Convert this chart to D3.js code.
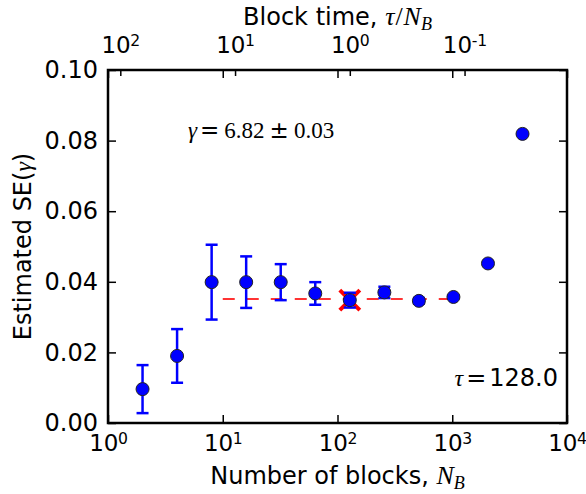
<!DOCTYPE html>
<html>
<head>
<meta charset="utf-8">
<script src="https://cdn.jsdelivr.net/npm/d3@7"></script>
<style>
  body { margin: 0; background: #fff; }
  svg { display: block; font-family: "DejaVu Sans", sans-serif; }
  .math { font-family: "Liberation Serif", serif; }
  .op { font-family: "DejaVu Sans", sans-serif; }
  .tick line { stroke: #000; stroke-width: 1.5px; }
  .tick text { fill: #000; font-family: "DejaVu Sans", sans-serif; }
</style>
</head>
<body>
<svg id="chart" width="586" height="494"></svg>
<script>
// --- data ---
const nBlocks = [2, 4, 8, 16, 32, 64, 128, 256, 512, 1024, 2048, 4096];
const seValues = [0.0096, 0.0190, 0.0399, 0.0399, 0.0399, 0.0367, 0.0348, 0.0370, 0.0346, 0.0357, 0.0452, 0.0819];
const seErrors = [0.0068, 0.0076, 0.0106, 0.0073, 0.0051, 0.0032, 0.0021, 0.0016, 0.0008, 0.0005, 0.0004, 0.0003];

const plateauValue = 0.0351;
const plateauRange = [10, 1000];
const chosenBlocks = 128;

const tau = 128.0;
const gammaText = "6.82";
const gammaErrText = "0.03";

const xTicks = [1, 10, 100, 1000, 10000];
const topTicks = [100, 10, 1, 0.1];
const yTicks = [0, 0.02, 0.04, 0.06, 0.08, 0.10];

// --- layout ---
const width = 586, height = 494;
const margin = { top: 70, right: 19, bottom: 71, left: 108 };
const fontSize = 24;
const powerFont = 23;

const svg = d3.select("#chart");

const x = d3.scaleLog().domain([1, 1e4]).range([margin.left, width - margin.right]);
const xTop = d3.scaleLog().domain([tau / 1, tau / 1e4]).range(x.range());
const y = d3.scaleLinear().domain([0, 0.10]).range([height - margin.bottom, margin.top]);

const plotLeft = margin.left, plotRight = width - margin.right;
const plotTop = margin.top, plotBottom = height - margin.bottom;

function powerLabel(sel) {
    sel.each(function (d) {
        const t = d3.select(this).text("");
        t.append("tspan").text("10");
        t.append("tspan").attr("dy", "-0.45em").attr("dx", -0.5).attr("font-size", "0.68em")
            .text(Math.round(Math.log10(d)));
    });
}

// --- axes (ticks point inward) ---
const gx = svg.append("g").attr("transform", `translate(0,${plotBottom})`)
    .call(d3.axisBottom(x).tickValues(xTicks).tickSizeInner(-8).tickSizeOuter(0).tickPadding(12));
gx.selectAll(".tick text").attr("font-size", powerFont).call(powerLabel);

svg.append("g").attr("transform", `translate(0,${plotTop})`)
    .call(d3.axisTop(x).tickValues(xTicks).tickSizeInner(-8).tickSizeOuter(0).tickFormat(""));

const gTop = svg.append("g").attr("transform", `translate(0,${plotTop})`)
    .call(d3.axisTop(xTop).tickValues(topTicks).tickSizeInner(-6).tickSizeOuter(0).tickPadding(17));
gTop.selectAll(".tick text").attr("font-size", powerFont).call(powerLabel);

const gy = svg.append("g").attr("transform", `translate(${plotLeft},0)`)
    .call(d3.axisLeft(y).tickValues(yTicks).tickSizeInner(-8).tickSizeOuter(0).tickPadding(10)
        .tickFormat(d3.format(".2f")));
gy.selectAll(".tick text").attr("font-size", fontSize);

svg.append("g").attr("transform", `translate(${plotRight},0)`)
    .call(d3.axisRight(y).tickValues(yTicks).tickSizeInner(-8).tickSizeOuter(0).tickFormat(""));

svg.selectAll(".domain").remove();

// --- plateau line and chosen block count ---
svg.append("line")
    .attr("x1", x(plateauRange[0])).attr("x2", x(plateauRange[1]))
    .attr("y1", y(plateauValue)).attr("y2", y(plateauValue))
    .attr("stroke", "#ff0000").attr("stroke-opacity", 0.8)
    .attr("stroke-width", 2).attr("stroke-dasharray", "12,12");

const chosenIdx = nBlocks.indexOf(chosenBlocks);
svg.append("path")
    .attr("transform", `translate(${x(chosenBlocks)},${y(seValues[chosenIdx])})`)
    .attr("d", "M-10,-10L10,10M-10,10L10,-10")
    .attr("stroke", "#ff0000").attr("stroke-width", 4);

// --- error bars and points ---
const points = nBlocks.map((n, i) => ({ n, v: seValues[i], e: seErrors[i] }));

const bars = svg.append("g").attr("stroke", "#0000ff").attr("stroke-width", 2.5);
bars.selectAll(".stem").data(points).join("line").attr("class", "stem")
    .attr("x1", d => x(d.n)).attr("x2", d => x(d.n))
    .attr("y1", d => y(d.v - d.e)).attr("y2", d => y(d.v + d.e));
bars.selectAll(".cap").data(points.flatMap(d => [{ n: d.n, v: d.v + d.e }, { n: d.n, v: d.v - d.e }]))
    .join("line").attr("class", "cap")
    .attr("x1", d => x(d.n) - 6).attr("x2", d => x(d.n) + 6)
    .attr("y1", d => y(d.v)).attr("y2", d => y(d.v));

svg.append("g").selectAll("circle").data(points).join("circle")
    .attr("cx", d => x(d.n)).attr("cy", d => y(d.v)).attr("r", 6.5)
    .attr("fill", "#0000ff").attr("stroke", "#222").attr("stroke-width", 1);

// --- frame ---
svg.append("rect")
    .attr("x", plotLeft).attr("y", plotTop)
    .attr("width", plotRight - plotLeft).attr("height", plotBottom - plotTop)
    .attr("fill", "none").attr("stroke", "#000").attr("stroke-width", 2.5);

// --- labels ---
const xLabel = svg.append("text").attr("x", (plotLeft + plotRight) / 2).attr("y", 484)
    .attr("text-anchor", "middle").attr("font-size", fontSize);
xLabel.append("tspan").text("Number of blocks, ");
xLabel.append("tspan").attr("class", "math").attr("font-style", "italic")
    .attr("font-size", "1.08em").text("N");
xLabel.append("tspan").attr("class", "math").attr("font-style", "italic")
    .attr("font-size", "0.75em").attr("dy", "0.25em").text("B");

const title = svg.append("text").attr("x", (plotLeft + plotRight) / 2).attr("y", 25)
    .attr("text-anchor", "middle").attr("font-size", fontSize);
title.append("tspan").text("Block time, ");
title.append("tspan").attr("class", "math").attr("font-style", "italic").attr("font-size", "1.08em").text("τ");
title.append("tspan").attr("class", "math").attr("font-size", "1.08em").attr("dx", 1).text("/");
title.append("tspan").attr("class", "math").attr("font-style", "italic").attr("font-size", "1.08em")
    .attr("dx", 1).text("N");
title.append("tspan").attr("class", "math").attr("font-style", "italic")
    .attr("font-size", "0.75em").attr("dy", "0.25em").text("B");

const yLabel = svg.append("text")
    .attr("transform", `translate(31,${(plotTop + plotBottom) / 2}) rotate(-90)`)
    .attr("text-anchor", "middle").attr("font-size", fontSize);
yLabel.append("tspan").text("Estimated SE(");
yLabel.append("tspan").attr("class", "math").attr("font-style", "italic").text("γ");
yLabel.append("tspan").text(")");

// annotation: wider operators and gaps, as in the math typesetting
const gammaNote = svg.append("text").attr("class", "math")
    .attr("x", 188).attr("y", 138).attr("font-size", 23);
gammaNote.append("tspan").attr("font-style", "italic").text("γ");
gammaNote.append("tspan").attr("class", "op").attr("dx", 3).text("=");
gammaNote.append("tspan").attr("dx", 5).text(gammaText);
gammaNote.append("tspan").attr("class", "op").attr("dx", 5).text("±");
gammaNote.append("tspan").attr("dx", 5).text(gammaErrText);

const tauNote = svg.append("text").attr("x", 558).attr("y", 386)
    .attr("text-anchor", "end").attr("font-size", fontSize);
tauNote.append("tspan").attr("class", "math").attr("font-style", "italic").text("τ");
tauNote.append("tspan").attr("dx", 3).text("=");
tauNote.append("tspan").attr("dx", 3).text(tau.toFixed(1));
</script>
</body>
</html>
